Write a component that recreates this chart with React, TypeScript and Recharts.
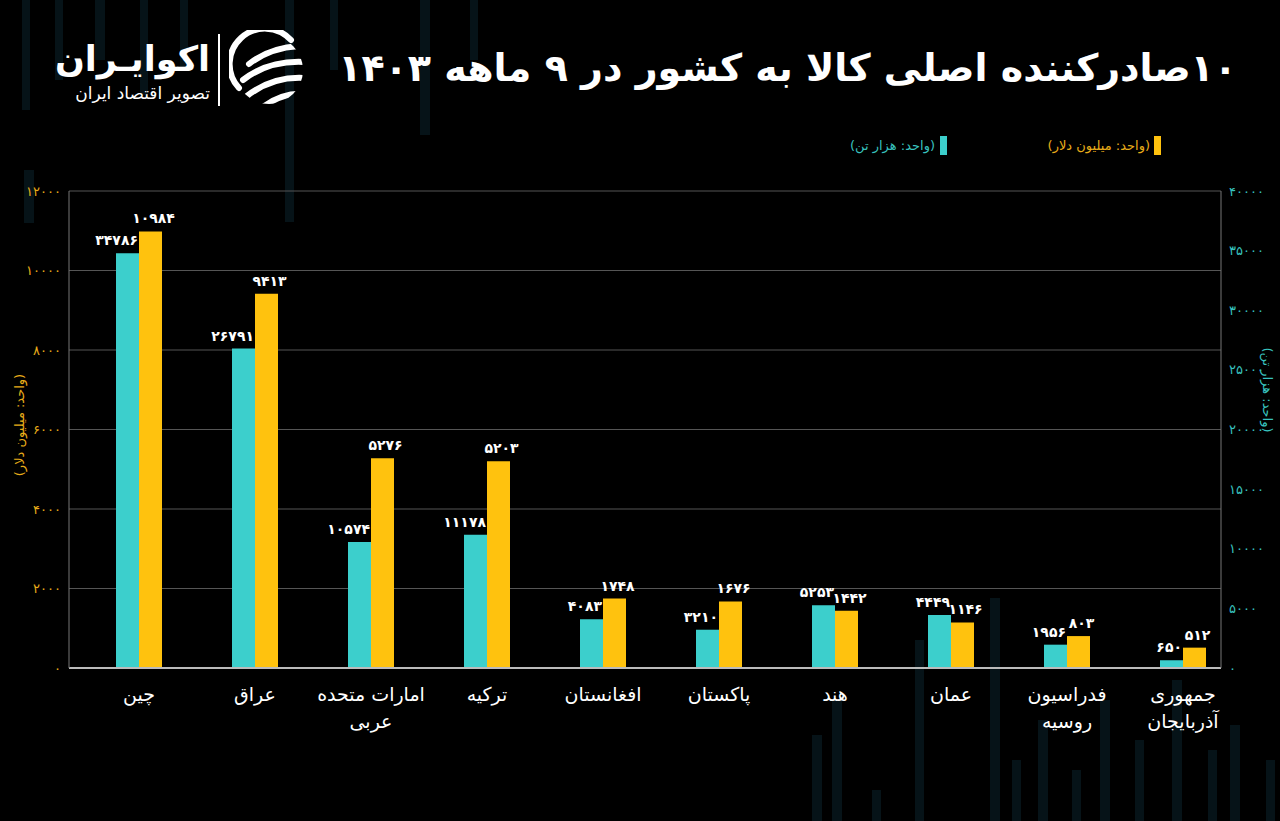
import React from 'react';
import { ComposedChart, Bar, XAxis, YAxis, CartesianGrid, LabelList } from 'recharts';

const categories = ['چین', 'عراق', 'امارات متحده\nعربی', 'ترکیه', 'افغانستان', 'پاکستان', 'هند', 'عمان', 'فدراسیون\nروسیه', 'جمهوری\nآذربایجان'];
const tonsValues = [34786, 26791, 10574, 11178, 4083, 3210, 5253, 4449, 1956, 650];
const usdValues = [10984, 9413, 5276, 5203, 1748, 1676, 1442, 1146, 803, 512];
const leftTicks = [0, 2000, 4000, 6000, 8000, 10000, 12000];
const rightTicks = [0, 5000, 10000, 15000, 20000, 25000, 30000, 35000, 40000];

const TEAL = '#3ccfcc';
const GOLD = '#ffc20e';
const FONT = '"DejaVu Sans", "Noto Sans", sans-serif';

const fa = (n: number | string) => String(n).replace(/\d/g, (d) => '۰۱۲۳۴۵۶۷۸۹'[+d]);

const data = categories.map((name, i) => ({ name, tons: tonsValues[i], usd: usdValues[i] }));

const CatTick = (props: any) => {
  const { x, y, payload } = props;
  const lines = String(payload.value).split('\n');
  return (
    <text x={x} y={y} textAnchor="middle" fill="#ffffff" fontSize={19} fontFamily={FONT} direction="rtl">
      {lines.map((l, i) => (
        <tspan key={i} x={x} dy={i === 0 ? 25 : 27}>{l}</tspan>
      ))}
    </text>
  );
};

const TealLabel = (props: any) => {
  const { x, y, width, value } = props;
  return (
    <text x={x + width - 1} y={y - 8} textAnchor="end" fill="#fff" fontSize={14} fontWeight="bold" fontFamily={FONT}>
      {fa(value)}
    </text>
  );
};

const GoldLabel = (props: any) => {
  const { x, y, width, value } = props;
  return (
    <text x={x + width / 2 + 3} y={y - 8} textAnchor="middle" fill="#fff" fontSize={14} fontWeight="bold" fontFamily={FONT}>
      {fa(value)}
    </text>
  );
};

const decoBars = [
  [22, 0, 8, 110], [55, 0, 8, 80], [95, 0, 10, 60], [140, 0, 8, 95], [180, 0, 8, 70], [285, 0, 9, 222], [330, 0, 8, 70],
  [420, 0, 10, 135], [470, 0, 8, 60], [24, 170, 10, 53],
  [812, 735, 10, 86], [832, 700, 10, 121], [872, 790, 9, 31], [915, 640, 9, 181], [990, 598, 10, 223], [1012, 760, 9, 61],
  [1038, 720, 10, 101], [1072, 770, 9, 51], [1100, 700, 10, 121], [1135, 740, 9, 81], [1172, 680, 10, 141], [1208, 750, 9, 71],
  [1230, 725, 10, 96], [1266, 760, 9, 61],
];

const LogoIcon = () => (
  <svg width={80} height={80} viewBox="0 0 80 80" style={{ position: 'absolute', left: 229, top: 30 }}>
    <defs>
      <clipPath id="lc">
        <circle cx={40} cy={40} r={34} />
      </clipPath>
    </defs>
    <path d="M 62 10 A 34 34 0 0 0 10 58" fill="none" stroke="#fff" strokeWidth={6} strokeLinecap="round" />
    <g clipPath="url(#lc)" stroke="#fff" strokeWidth={6} fill="none" strokeLinecap="round">
      <path d="M 20 34 Q 40 18 70 16" />
      <path d="M 14 50 Q 40 30 76 32" />
      <path d="M 18 66 Q 44 46 76 48" />
      <path d="M 30 80 Q 52 62 76 64" />
    </g>
  </svg>
);

export default function App() {
  return (
    <div style={{ position: 'absolute', left: 0, top: 0, width: 1280, height: 821, background: '#000', overflow: 'hidden', fontFamily: FONT }}>
      {decoBars.map(([x, y, w, h], i) => (
        <div key={i} style={{ position: 'absolute', left: x, top: y, width: w, height: h, background: '#061318' }} />
      ))}
      <ComposedChart
        width={1280}
        height={821}
        data={data}
        margin={{ top: 191, right: 9, bottom: 73, left: 19 }}
        barGap={0}
        style={{ position: 'absolute', left: 0, top: 0 }}
      >
        <CartesianGrid yAxisId="left" vertical={false} stroke="#555" strokeWidth={1} />
        <XAxis
          dataKey="name"
          height={80}
          interval={0}
          tickLine={false}
          axisLine={{ stroke: '#bbb', strokeWidth: 2 }}
          tick={<CatTick />}
          padding={{ left: 12, right: -20 }}
        />
        <YAxis
          yAxisId="left"
          orientation="left"
          domain={[0, 12000]}
          ticks={leftTicks}
          width={50}
          tickLine={false}
          axisLine={{ stroke: '#777' }}
          tick={{ fill: '#e8ad1a', fontSize: 13, fontFamily: FONT }}
          tickFormatter={(v: number) => fa(v)}
        />
        <YAxis
          yAxisId="right"
          orientation="right"
          domain={[0, 40000]}
          ticks={rightTicks}
          width={50}
          tickLine={false}
          axisLine={{ stroke: '#777' }}
          tick={{ fill: '#38c2bf', fontSize: 13, fontFamily: FONT }}
          tickFormatter={(v: number) => fa(v)}
        />
        <Bar yAxisId="right" dataKey="tons" fill={TEAL} barSize={23} isAnimationActive={false}>
          <LabelList dataKey="tons" content={<TealLabel />} />
        </Bar>
        <Bar yAxisId="left" dataKey="usd" fill={GOLD} barSize={23} isAnimationActive={false}>
          <LabelList dataKey="usd" content={<GoldLabel />} />
        </Bar>
      </ComposedChart>

      {/* Title */}
      <div dir="rtl" style={{ position: 'absolute', right: 43, top: 40, height: 56, lineHeight: '56px', fontSize: 38, fontWeight: 'bold', color: '#fff', whiteSpace: 'nowrap' }}>
        ۱۰صادرکننده اصلی کالا به کشور در ۹ ماهه ۱۴۰۳
      </div>

      {/* Logo */}
      <div dir="rtl" style={{ position: 'absolute', right: 1280 - 210, top: 36, height: 46, lineHeight: '46px', fontSize: 35, fontWeight: 'bold', color: '#fff', whiteSpace: 'nowrap' }}>
        اکوایـران
      </div>
      <div dir="rtl" style={{ position: 'absolute', right: 1280 - 210, top: 82, height: 22, lineHeight: '22px', fontSize: 17, color: '#fff', whiteSpace: 'nowrap' }}>
        تصویر اقتصاد ایران
      </div>
      <div style={{ position: 'absolute', left: 218, top: 34, width: 2, height: 72, background: '#fff' }} />
      <LogoIcon />

      {/* Legend */}
      <div style={{ position: 'absolute', left: 1154, top: 136, width: 7, height: 19, background: GOLD }} />
      <div dir="rtl" style={{ position: 'absolute', right: 1280 - 1150, top: 136, height: 19, lineHeight: '19px', fontSize: 13, color: '#e8ad1a', whiteSpace: 'nowrap' }}>
        (واحد: میلیون دلار)
      </div>
      <div style={{ position: 'absolute', left: 940, top: 136, width: 7, height: 19, background: TEAL }} />
      <div dir="rtl" style={{ position: 'absolute', right: 1280 - 935, top: 136, height: 19, lineHeight: '19px', fontSize: 13, color: '#38c2bf', whiteSpace: 'nowrap' }}>
        (واحد: هزار تن)
      </div>

      {/* Axis titles */}
      <div dir="rtl" style={{ position: 'absolute', left: 19, top: 425, transform: 'translate(-50%, -50%) rotate(-90deg)', fontSize: 13, color: '#e8ad1a', whiteSpace: 'nowrap' }}>
        (واحد: میلیون دلار)
      </div>
      <div dir="rtl" style={{ position: 'absolute', left: 1267, top: 390, transform: 'translate(-50%, -50%) rotate(90deg)', fontSize: 13, color: '#38c2bf', whiteSpace: 'nowrap' }}>
        (واحد: هزار تن)
      </div>
    </div>
  );
}
